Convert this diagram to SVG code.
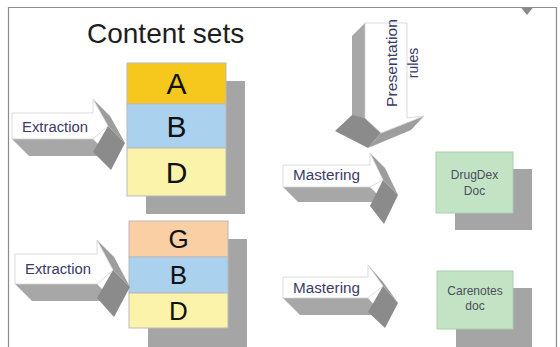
<svg xmlns="http://www.w3.org/2000/svg" width="560" height="347" viewBox="0 0 560 347">
  <style>
    .frame{fill:none;stroke:#8c8c8c;stroke-width:1.2}
    .shadow{fill:#a5a5a5}
    .cell{stroke:#b9b9b9;stroke-width:1}
    .letter{font-family:"Liberation Sans",Arial,sans-serif;fill:#111;text-anchor:middle}
    .big{font-size:30px}
    .mid{font-size:26px}
    .face{fill:#fff;stroke:#d2d2d2;stroke-width:0.8;stroke-linejoin:round}
    .band{fill:#a7a7a7}
    .hu{fill:#9d9d9d}
    .hl{fill:#8b8b8b}
    .lbl{font-family:"Liberation Sans",Arial,sans-serif;font-size:14px;fill:#3a3a66}
    .doc{fill:#c2e4c4;stroke:#a9d0ab;stroke-width:1}
    .doctext{font-family:"Liberation Sans",Arial,sans-serif;font-size:12px;fill:#4d4d5e;text-anchor:middle}
  </style>

  <!-- slide frame -->
  <path class="frame" d="M8.5 347 V7.5 H556.5 V347"/>
  <polygon points="521,7.5 533,7.5 527,15" fill="#8a8a8a"/>

  <text x="87" y="43" font-family="'Liberation Sans',Arial,sans-serif" font-size="28" fill="#1e1e1e">Content sets</text>

  <!-- upper content stack -->
  <g id="stack-abd">
    <rect class="shadow" x="146" y="81" width="99" height="41"/>
    <rect class="shadow" x="146" y="122" width="99" height="44"/>
    <rect class="shadow" x="146" y="166" width="99" height="48"/>
    <rect class="cell" x="127" y="63" width="99" height="41" fill="#f6c81e"/>
    <rect class="cell" x="127" y="104" width="99" height="44" fill="#aad2ee"/>
    <rect class="cell" x="127" y="148" width="99" height="48" fill="#faf3a9"/>
    <text class="letter big" x="176.5" y="94">A</text>
    <text class="letter big" x="176.5" y="137">B</text>
    <text class="letter big" x="176.5" y="183">D</text>
  </g>

  <!-- lower content stack -->
  <g id="stack-gbd">
    <rect class="shadow" x="148" y="239" width="99" height="36"/>
    <rect class="shadow" x="148" y="275" width="99" height="36"/>
    <rect class="shadow" x="148" y="311" width="99" height="36"/>
    <rect class="cell" x="129" y="221" width="99" height="36" fill="#facfa4"/>
    <rect class="cell" x="129" y="257" width="99" height="36" fill="#aad2ee"/>
    <rect class="cell" x="129" y="293" width="99" height="35" fill="#faf3a9"/>
    <text class="letter mid" x="178.5" y="248">G</text>
    <text class="letter mid" x="178.5" y="284">B</text>
    <text class="letter mid" x="178.5" y="320">D</text>
  </g>

  <!-- output documents -->
  <g id="drugdex-doc">
    <rect class="shadow" x="455" y="169" width="77" height="61"/>
    <rect class="doc" x="436" y="152" width="77" height="61"/>
    <text class="doctext" x="474.5" y="179">DrugDex</text>
    <text class="doctext" x="474.5" y="195">Doc</text>
  </g>
  <g id="carenotes-doc">
    <rect class="shadow" x="456" y="288" width="76" height="59"/>
    <rect class="doc" x="437" y="271" width="76" height="58"/>
    <text class="doctext" x="475" y="295">Carenotes</text>
    <text class="doctext" x="475" y="310">doc</text>
  </g>

  <!-- 3D block arrows -->
  <g id="connectors">
    <g id="extraction-1">
      <polygon class="band" points="12,139 93,139 110,156 29,156"/>
      <polygon class="hu" points="93,99 108,126 125,143 110,116"/>
      <polygon class="hl" points="108,126 125,143 111,170 93,152"/>
      <polygon class="face" points="12,113 93,113 93,99 108,126 93,139 12,139"/>
      <text class="lbl" x="22" y="132" textLength="66" lengthAdjust="spacingAndGlyphs">Extraction</text>
    </g>
    <g id="extraction-2">
      <polygon class="band" points="15,284 97,284 114,301 32,301"/>
      <polygon class="hu" points="97,240 113,270 130,287 114,257"/>
      <polygon class="hl" points="113,270 130,287 114,317 97,298"/>
      <polygon class="face" points="15,254 97,254 97,240 113,270 97,284 15,284"/>
      <text class="lbl" x="25" y="274" textLength="66" lengthAdjust="spacingAndGlyphs">Extraction</text>
    </g>
    <g id="mastering-1">
      <polygon class="band" points="283,187 370,187 385,202 298,202"/>
      <polygon class="hu" points="370,153 383,180 398,195 385,168"/>
      <polygon class="hl" points="383,180 398,195 384,224 370,206"/>
      <polygon class="face" points="283,165 370,165 370,153 383,180 370,187 283,187"/>
      <text class="lbl" x="293" y="180" textLength="67" lengthAdjust="spacingAndGlyphs">Mastering</text>
    </g>
    <g id="mastering-2">
      <polygon class="band" points="283,298 368,298 383,315 300,315"/>
      <polygon class="hu" points="368,265 383,286 398,303 383,282"/>
      <polygon class="hl" points="383,286 398,303 385,328 368,312"/>
      <polygon class="face" points="283,277 368,277 368,265 383,286 368,298 283,298"/>
      <text class="lbl" x="293" y="293" textLength="67" lengthAdjust="spacingAndGlyphs">Mastering</text>
    </g>
    <g id="presentation-rules">
      <polygon class="band" points="365,23 352,36 352,116 365,118"/>
      <polygon class="hl" points="352,115 335,131 368,148 381,133 365,118"/>
      <polygon class="hu" points="381,133 424,116 411,130 368,148"/>
      <polygon class="face" points="365,23 407,23 407,118 424,116 381,133 365,118"/>
      <text class="lbl" transform="translate(397,63) rotate(-90)" text-anchor="middle" font-size="15" textLength="88" lengthAdjust="spacingAndGlyphs">Presentation</text>
      <text class="lbl" transform="translate(418,63) rotate(-90)" text-anchor="middle" font-size="15">rules</text>
    </g>
  </g>
</svg>
